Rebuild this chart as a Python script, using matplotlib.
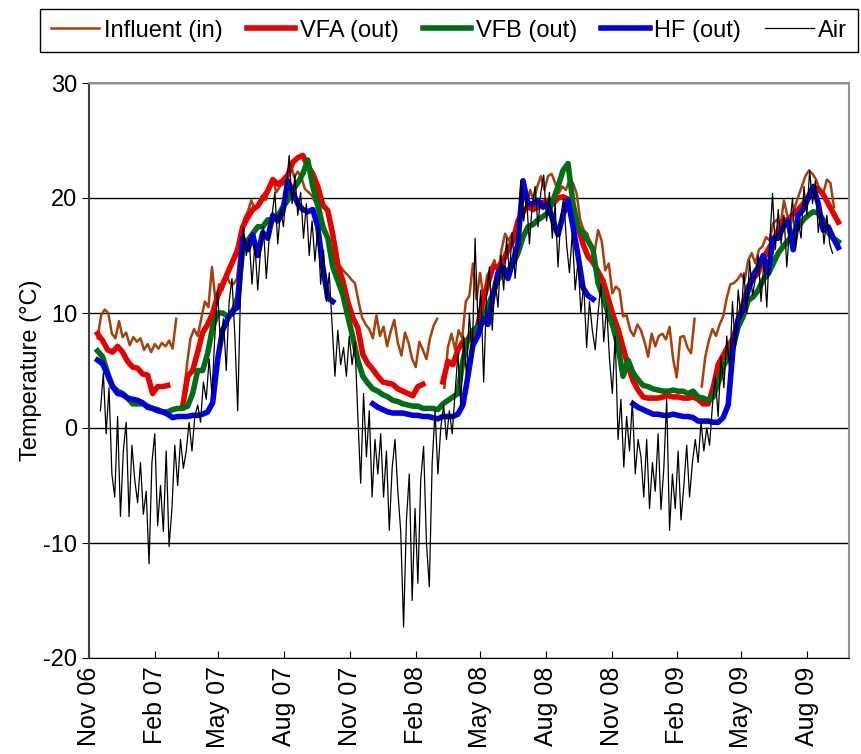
import numpy as np
import pandas as pd
import matplotlib
matplotlib.use("Agg")
import matplotlib.pyplot as plt
import matplotlib.dates as mdates

nan = np.nan

# sample dates (weekly for the filters, 5-daily influent, 4-daily air)
weekly_dates = pd.date_range("2006-11-13", periods=149, freq="7D")
influent_dates = pd.date_range("2006-11-13", periods=207, freq="5D")
air_dates = pd.date_range("2006-11-17", periods=257, freq="4D")

vfa = [8.2, 7.6, 6.8, 6.6, 7.1, 6.6, 5.8, 5.3, 5.2, 4.7,
       4.6, 3.0, 3.6, 3.6, 3.7, nan, nan, 1.9, 4.5, 5.0,
       6.6, 8.3, 9.0, 10.0, 11.5, 12.5, 13.5, 14.5, 15.5, 17.5,
       18.3, 19.0, 19.3, 20.0, 20.6, 21.6, 21.2, 21.5, 22.0, 23.1,
       23.5, 23.7, 22.8, 22.1, 21.0, 19.4, 18.9, 16.8, 14.2, 12.8,
       11.0, 9.6, 8.7, 6.4, 5.6, 5.1, 4.5, 4.0, 3.9, 3.8,
       3.4, 3.2, 3.0, 2.8, 3.6, 3.8, nan, nan, nan, 4.0,
       5.8, 5.5, 6.8, 7.5, 7.7, 7.7, 9.0, 11.0, 12.6, 14.0,
       14.0, 14.5, 15.5, 16.3, 18.0, 18.9, 19.2, 19.0, 19.2, 19.6,
       19.8, 19.5, 20.0, 20.1, 19.9, 18.8, 17.5, 16.0, 14.9, 14.4,
       13.6, 12.8, 11.3, 9.8, 8.6, 7.0, 5.4, 4.1, 3.3, 2.7,
       2.6, 2.6, 2.6, 2.7, 2.8, 2.7, 2.7, 2.6, 2.6, 2.7,
       2.5, 2.1, 2.1, 3.5, 5.5, 6.3, 7.1, 7.8, 9.3, 10.8,
       12.3, 13.0, 13.5, 14.7, 15.5, 16.3, 17.2, 18.1, 18.1, 18.6,
       19.0, 19.5, 20.1, 20.9, 20.8, 20.3, 19.5, 18.7, 17.9]

vfb = [6.7, 6.2, 4.8, 3.6, 3.2, 3.0, 2.6, 2.1, 2.1, 2.1,
       1.9, 1.7, 1.6, 1.4, 1.4, 1.6, 1.7, 1.7, 1.9, 3.0,
       5.0, 5.0, 6.5, 8.8, 10.0, 10.0, 9.7, 10.0, 11.4, 15.5,
       16.3, 16.9, 17.5, 17.5, 18.1, 18.1, 18.4, 19.2, 19.8, 20.7,
       21.3, 22.1, 23.3, 21.0, 19.5, 17.5, 16.5, 14.0, 12.8, 11.6,
       9.7, 7.9, 5.9, 4.5, 3.9, 3.4, 3.2, 2.9, 2.7, 2.4,
       2.3, 2.1, 2.0, 1.9, 1.9, 1.7, 1.7, 1.7, 1.6, 2.1,
       2.4, 2.7, 3.0, 5.9, 7.7, 8.5, 8.8, 9.4, 10.6, 11.7,
       12.9, 13.4, 13.7, 14.3, 15.2, 16.6, 17.5, 17.7, 18.1, 18.4,
       18.7, 19.8, 21.0, 22.4, 23.0, 19.5, 17.5, 16.9, 16.3, 15.5,
       12.6, 11.4, 10.0, 8.8, 7.1, 4.5, 5.9, 4.8, 4.2, 3.7,
       3.6, 3.4, 3.3, 3.2, 3.2, 3.3, 3.2, 3.2, 3.0, 3.2,
       2.7, 2.6, 2.4, 2.7, 3.9, 5.3, 6.2, 7.1, 8.8, 9.7,
       11.1, 11.4, 12.0, 12.9, 13.4, 14.3, 15.2, 15.8, 16.3, 16.9,
       17.5, 18.1, 18.5, 18.8, 18.7, 18.1, 17.0, 16.5, 16.2]

hf = [5.9, 5.6, 4.6, 3.6, 3.0, 2.9, 2.6, 2.5, 2.4, 2.2,
      1.8, 1.7, 1.5, 1.4, 1.2, 0.9, 1.0, 1.0, 1.0, 1.1,
      1.1, 1.2, 1.4, 2.2, 6.0, 8.5, 9.5, 10.2, 10.5, 16.5,
      15.5, 16.8, 15.0, 17.0, 16.5, 18.5, 18.0, 18.8, 21.5, 20.5,
      19.5, 19.0, 18.8, 19.0, 17.5, 14.0, 11.3, 11.0, nan, nan,
      nan, nan, nan, nan, nan, 2.1, 1.8, 1.6, 1.4, 1.3,
      1.3, 1.3, 1.2, 1.1, 1.1, 1.0, 1.0, 0.9, 0.8, 1.0,
      1.0, 1.0, 1.2, 2.0, 4.5, 7.2, 8.0, 9.5, 9.0, 11.5,
      13.5, 14.0, 13.0, 14.5, 16.0, 21.5, 19.5, 19.5, 19.8, 19.2,
      19.5, 18.0, 16.8, 18.5, 19.8, 17.5, 15.0, 12.2, 11.5, 11.2,
      nan, nan, nan, nan, nan, nan, nan, 2.1, 1.8, 1.6,
      1.4, 1.2, 1.2, 1.1, 1.1, 1.2, 1.1, 1.0, 1.0, 0.9,
      0.6, 0.6, 0.6, 0.5, 0.5, 0.9, 2.0, 7.0, 9.5, 10.3,
      12.0, 13.3, 14.0, 15.0, 13.5, 16.5, 16.5, 17.5, 18.0, 15.5,
      18.5, 19.0, 20.0, 21.0, 19.5, 17.2, 17.5, 16.5, 15.7]

influent = [7.8, 9.8, 10.3, 10.0, 8.2, 7.8, 9.3, 7.9, 8.3, 7.2,
            7.9, 7.5, 7.8, 6.8, 7.3, 6.6, 7.3, 6.9, 7.4, 7.1,
            7.6, 6.9, 9.5, nan, 2.5, 5.5, 7.8, 8.6, 8.0, 9.5,
            11.0, 10.5, 14.0, 11.0, 12.5, 12.0, 13.3, 12.6, 12.5, 13.0,
            16.0, 18.2, 18.8, 19.8, 19.0, 19.4, 20.2, 19.8, 20.8, 21.6,
            20.5, 21.0, 21.2, 21.5, 23.0, 21.8, 22.3, 21.8, 20.8, 20.5,
            20.2, 19.5, 18.2, 18.0, 16.9, 16.0, 14.6, 14.3, 14.0, 13.6,
            13.3, 12.9, 12.6, 11.0, 9.6, 9.0, 8.6, 7.8, 9.8, 8.0,
            8.8, 7.1, 8.4, 9.4, 7.4, 6.3, 8.3, 7.4, 6.0, 5.3,
            7.5, 6.8, 6.0, 7.8, 8.9, 9.5, nan, 3.5, 7.0, 8.2,
            6.8, 8.5, 7.8, 11.0, 11.5, 14.3, 11.2, 13.5, 11.2, 13.3,
            13.8, 14.6, 13.4, 15.5, 16.9, 16.3, 16.9, 16.6, 18.0, 18.4,
            19.2, 20.7, 19.8, 21.0, 21.9, 20.7, 21.9, 22.1, 21.3, 20.4,
            21.0, 20.7, 21.6, 21.3, 20.4, 18.1, 17.2, 16.9, 15.8, 15.2,
            17.2, 16.3, 13.7, 14.3, 11.7, 12.3, 12.0, 9.7, 9.8, 8.5,
            8.0, 9.0, 8.5, 7.5, 6.2, 8.2, 7.1, 8.0, 8.2, 7.7,
            8.8, 6.0, 4.4, 7.9, 8.0, 7.0, 6.5, 9.5, nan, 3.6,
            6.2, 7.6, 8.6, 8.0, 9.0, 9.7, 11.3, 12.5, 12.6, 12.9,
            13.4, 12.8, 14.6, 15.2, 14.3, 15.5, 15.8, 16.6, 16.3, 17.8,
            18.1, 17.5, 19.8, 18.4, 17.8, 19.2, 20.1, 21.0, 21.9, 22.4,
            22.1, 21.6, 20.7, 20.4, 21.6, 21.3, 19.2]

air = [1.5, 4.8, -0.5, 3.5, -4.0, -6.0, 1.0, -7.7, -2.0, 0.5,
       -7.7, -1.5, -4.5, -6.5, -3.0, -7.5, -5.5, -11.8, -3.0, -0.5,
       -8.5, -5.0, -9.0, -2.0, -10.3, -7.0, -1.5, -5.0, -1.0, -3.5,
       -2.0, 0.5, -2.0, 1.0, 2.0, 0.5, 4.0, 2.5, 6.0, 3.0,
       8.0, 12.0, 7.0, 9.5, 5.0, 11.0, 13.0, 8.0, 1.5, 12.0,
       17.5, 15.0, 16.5, 12.5, 16.0, 12.0, 15.5, 17.5, 13.0, 16.5,
       18.5, 20.5, 16.0, 19.0, 17.5, 21.0, 23.7, 19.5, 22.0, 18.5,
       20.5, 16.5, 19.5, 15.0, 18.0, 14.5, 17.5, 12.5, 15.5, 11.0,
       13.5, 9.0, 4.5, 8.5, 5.5, 7.0, 4.5,
       8.0, 5.5, 7.5, 1.0, -4.8, 3.0, -2.5, 1.5, -6.0, -1.0,
       -4.0, -0.5, -6.0, -2.0, -8.9, -3.5, -1.0, -5.5, -9.0, -17.3,
       -8.0, -4.0, -15.0, -7.0, -13.5, -4.5, -1.6, -10.0, -13.8, -3.0,
       1.5, -4.0, 0.0, 2.0, -1.0, 1.5, -0.5, 3.0, 6.5, 2.0,
       8.0, 4.5, 10.0, 6.0, 16.5, 9.0, 12.0, 4.0, 11.5, 14.0,
       8.5, 13.0, 10.5, 15.0, 12.0, 16.5, 13.5, 17.0, 13.0, 16.0,
       21.5, 18.0, 20.0, 16.0, 19.5, 21.0, 17.5, 20.5, 22.0, 18.0,
       20.5, 16.5, 19.5, 14.0, 18.5, 20.0, 16.0, 13.5, 17.0, 12.0,
       14.5, 10.0, 12.5, 7.0, 11.0, 8.5, 6.8, 10.0,
       12.5, 7.5, 10.5, 6.0, 3.0, 8.0, -1.0, 2.5, -3.4, 1.0,
       -2.0, 2.4, -4.0, -1.0, -2.5, -6.0, -1.0, -7.0, -3.0, -5.5,
       -0.5, -7.1, -3.5, 2.5, -8.9, -4.0, -7.0, -2.0, -8.0, -5.0,
       -1.5, -6.0, -3.0, -1.0, -3.0, 0.5, -2.0, 0.0, -1.5, 2.0,
       4.5, 1.0, 6.2, 3.5, 8.0, 5.0, 11.0, 7.0, 12.0, 9.5,
       13.5, 10.0, 14.6, 11.5, 13.0, 15.0, 11.0, 14.5, 10.5, 16.0,
       20.4, 15.5, 19.0, 16.0, 18.5, 14.0, 17.5, 20.0, 15.5, 18.0,
       16.5, 21.0, 18.5, 22.4, 19.5, 21.5, 17.0, 19.0, 16.0, 18.5, 16.0, 15.2]

plt.rcParams["font.family"] = ["Liberation Sans", "DejaVu Sans"]
plt.rcParams["font.size"] = 17
plt.rcParams["axes.unicode_minus"] = False

fig = plt.figure(figsize=(8.61, 7.54), dpi=100)
ax = fig.add_axes([89 / 861, 96 / 754, 760 / 861, 575 / 754])

l1, = ax.plot(influent_dates, influent, color="#a5420a", lw=1.8, label="Influent (in)")
l2, = ax.plot(weekly_dates, vfa, color="#e60000", lw=4, label="VFA (out)")
l3, = ax.plot(weekly_dates, vfb, color="#006e14", lw=4, label="VFB (out)")
l4, = ax.plot(weekly_dates, hf, color="#0000e0", lw=4, label="HF (out)")
l5, = ax.plot(air_dates, air, color="black", lw=0.9, label="Air")

ax.set_xlim(pd.Timestamp("2006-11-01"), pd.Timestamp("2009-09-29"))
ax.set_ylim(-20, 30)
ax.set_yticks([-20, -10, 0, 10, 20, 30])
ax.yaxis.grid(True, color="black", lw=1)
ax.set_axisbelow(True)

ax.set_xticks(pd.date_range("2006-11-01", "2009-08-01", freq="3MS"))
ax.xaxis.set_major_formatter(mdates.DateFormatter("%b %y"))
ax.tick_params(axis="x", direction="in", length=5, rotation=90, pad=6, labelsize=18)
ax.tick_params(axis="y", direction="out", length=5)
ax.set_ylabel("Temperature (°C)")
ax.yaxis.set_label_coords(-(89 - 42) / 760, 0.5)

ax.spines["left"].set_color("#404040")
ax.spines["left"].set_linewidth(1.5)
ax.spines["top"].set_color("#909090")
ax.spines["top"].set_linewidth(1.5)
ax.spines["right"].set_color("#909090")
ax.spines["right"].set_linewidth(1.5)
ax.spines["bottom"].set_color("black")

leg = fig.legend(handles=[l1, l2, l3, l4, l5], loc="upper left",
                 bbox_to_anchor=(40 / 861, 1 - 9 / 754), ncol=5,
                 frameon=True, fancybox=False, edgecolor="black",
                 framealpha=1, borderaxespad=0, borderpad=0.45,
                 handlelength=2.05, handletextpad=0.2, columnspacing=1.02,
                 fontsize=17)
leg.get_frame().set_linewidth(1)

fig.savefig("out.png", dpi=100)
